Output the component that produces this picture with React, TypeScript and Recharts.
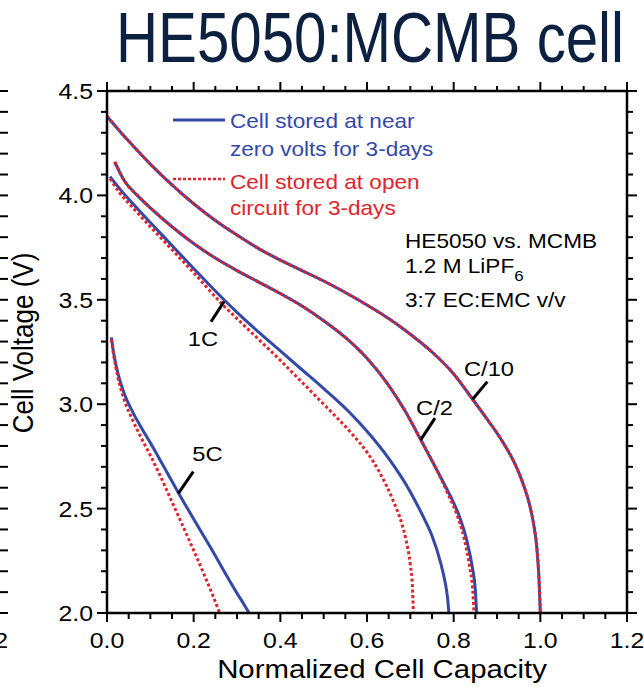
import React from 'react';
import { LineChart, Line, XAxis, YAxis, ReferenceLine, ReferenceDot, Legend } from 'recharts';

const FONT = '"Liberation Sans", Arial, Helvetica, sans-serif';
const NARROW = '"Liberation Sans Narrow", "Arial Narrow", "Liberation Sans", Arial, sans-serif';
const SX = 1.13;
const BLUE = '#3448a8';
const RED = '#e1232b';
const NAVY = '#0c2140';

// ---------- axis ticks ----------
const xTicks = [0, 0.05, 0.1, 0.15, 0.2, 0.25, 0.3, 0.35, 0.4, 0.45, 0.5, 0.55, 0.6, 0.65, 0.7, 0.75, 0.8, 0.85, 0.9, 0.95, 1.0, 1.05, 1.1, 1.15, 1.2];
const xMajorTicks = [0, 0.2, 0.4, 0.6, 0.8, 1.0, 1.2];
const xTickLabels = ['0.0', '0.2', '0.4', '0.6', '0.8', '1.0', '1.2'];
const yTicks = [2.0, 2.1, 2.2, 2.3, 2.4, 2.5, 2.6, 2.7, 2.8, 2.9, 3.0, 3.1, 3.2, 3.3, 3.4, 3.5, 3.6, 3.7, 3.8, 3.9, 4.0, 4.1, 4.2, 4.3, 4.4, 4.5];
const yMajorTicks = [2.0, 2.5, 3.0, 3.5, 4.0, 4.5];
const yTickLabels = ['2.0', '2.5', '3.0', '3.5', '4.0', '4.5'];

// ---------- series: C/10 ----------
const c10BlueCap = [0, 0.02, 0.05, 0.1, 0.15, 0.2, 0.25, 0.3, 0.35, 0.4, 0.45, 0.5, 0.55, 0.6, 0.65, 0.7, 0.75, 0.8, 0.845, 0.88, 0.91, 0.94, 0.96, 0.975, 0.985, 0.992, 0.997, 1.0];
const c10BlueV = [4.38, 4.33, 4.26, 4.15, 4.05, 3.96, 3.88, 3.81, 3.745, 3.69, 3.64, 3.59, 3.535, 3.475, 3.41, 3.335, 3.25, 3.145, 3.02, 2.92, 2.83, 2.72, 2.62, 2.52, 2.42, 2.31, 2.16, 2.0];
const c10RedCap = [0, 0.02, 0.05, 0.1, 0.15, 0.2, 0.25, 0.3, 0.35, 0.4, 0.45, 0.5, 0.55, 0.6, 0.65, 0.7, 0.75, 0.8, 0.845, 0.88, 0.91, 0.94, 0.96, 0.975, 0.985, 0.992, 0.997, 1.0];
const c10RedV = [4.38, 4.33, 4.26, 4.15, 4.05, 3.96, 3.88, 3.81, 3.745, 3.69, 3.64, 3.59, 3.535, 3.475, 3.41, 3.335, 3.25, 3.145, 3.02, 2.92, 2.83, 2.72, 2.62, 2.52, 2.42, 2.31, 2.16, 2.0];

// ---------- series: C/2 ----------
const c2BlueCap = [0.018, 0.04, 0.07, 0.1, 0.15, 0.2, 0.25, 0.3, 0.35, 0.4, 0.45, 0.5, 0.55, 0.6, 0.65, 0.69, 0.724, 0.76, 0.79, 0.81, 0.83, 0.843, 0.85, 0.853];
const c2BlueV = [4.16, 4.07, 4.0, 3.94, 3.85, 3.77, 3.7, 3.64, 3.585, 3.53, 3.47, 3.4, 3.32, 3.22, 3.09, 2.96, 2.83, 2.69, 2.57, 2.48, 2.35, 2.22, 2.11, 2.0];
const c2RedCap = [0.018, 0.04, 0.07, 0.1, 0.15, 0.2, 0.25, 0.3, 0.35, 0.4, 0.45, 0.5, 0.55, 0.6, 0.65, 0.69, 0.724, 0.76, 0.787, 0.806, 0.825, 0.837, 0.844, 0.847];
const c2RedV = [4.16, 4.07, 4.0, 3.94, 3.85, 3.77, 3.7, 3.64, 3.585, 3.53, 3.47, 3.4, 3.32, 3.22, 3.09, 2.96, 2.83, 2.69, 2.57, 2.48, 2.35, 2.22, 2.11, 2.0];

// ---------- series: 1C ----------
const c1BlueCap = [0.007, 0.03, 0.06, 0.1, 0.15, 0.2, 0.27, 0.3, 0.35, 0.4, 0.45, 0.5, 0.56, 0.6, 0.65, 0.7, 0.73, 0.75, 0.77, 0.78, 0.786, 0.789];
const c1BlueV = [4.09, 4.03, 3.96, 3.87, 3.76, 3.65, 3.5, 3.44, 3.345, 3.255, 3.165, 3.075, 2.96, 2.87, 2.74, 2.58, 2.46, 2.37, 2.24, 2.15, 2.07, 2.0];
const c1RedCap = [0.007, 0.03, 0.06, 0.1, 0.15, 0.2, 0.27, 0.3, 0.35, 0.4, 0.45, 0.5, 0.56, 0.6, 0.63, 0.66, 0.68, 0.69, 0.7, 0.705, 0.707];
const c1RedV = [4.08, 4.01, 3.94, 3.85, 3.74, 3.63, 3.47, 3.41, 3.31, 3.21, 3.105, 3.0, 2.87, 2.77, 2.67, 2.54, 2.43, 2.35, 2.23, 2.12, 2.0];

// ---------- series: 5C ----------
const c5BlueCap = [0.01, 0.015, 0.025, 0.04, 0.06, 0.08, 0.1, 0.13, 0.165, 0.2, 0.24, 0.28, 0.3, 0.315, 0.328];
const c5BlueV = [3.32, 3.25, 3.15, 3.05, 2.96, 2.885, 2.815, 2.705, 2.575, 2.45, 2.31, 2.165, 2.095, 2.045, 2.0];
const c5RedCap = [0.01, 0.015, 0.025, 0.04, 0.06, 0.08, 0.1, 0.12, 0.145, 0.17, 0.2, 0.225, 0.245, 0.26];
const c5RedV = [3.31, 3.24, 3.13, 3.02, 2.92, 2.835, 2.755, 2.67, 2.555, 2.44, 2.3, 2.18, 2.08, 2.0];

// ---------- rate annotations ----------
const rateLabels = ['C/10', 'C/2', '1C', '5C'];
const rateLabelCap = [0.8815, 0.7558, 0.2215, 0.2319];
const rateLabelV = [3.169, 2.984, 3.317, 2.762];
const pointerFromCap = [0.8777, 0.7569, 0.24, 0.1992];
const pointerFromV = [3.108, 2.933, 3.395, 2.677];
const pointerToCap = [0.8437, 0.7239, 0.27, 0.1646];
const pointerToV = [3.024, 2.829, 3.491, 2.573];

const legendLabels = [
  ['Cell stored at near', 'zero volts for 3-days'],
  ['Cell stored at open', 'circuit for 3-days'],
];

const toPts = (cap: number[], v: number[]) => cap.map((c, i) => ({ c, v: v[i] }));

const blueSeries = [
  toPts(c10BlueCap, c10BlueV),
  toPts(c2BlueCap, c2BlueV),
  toPts(c1BlueCap, c1BlueV),
  toPts(c5BlueCap, c5BlueV),
];
const redSeries = [
  toPts(c10RedCap, c10RedV),
  toPts(c2RedCap, c2RedV),
  toPts(c1RedCap, c1RedV),
  toPts(c5RedCap, c5RedV),
];

const majorIndex = (v: number, majors: number[]) => majors.findIndex((m) => Math.abs(m - v) < 1e-6);

function SText(props: any) {
  const { x, y, anchor = 'start', size = 20, fill = '#000', rotate = false, children } = props;
  return (
    <text
      transform={`translate(${x},${y}) scale(${SX},1)${rotate ? ' rotate(-90)' : ''}`}
      textAnchor={anchor}
      fontSize={size}
      fontFamily={FONT}
      fill={fill}
    >
      {children}
    </text>
  );
}

function BottomTick(props: any) {
  const { x, y, payload } = props;
  const i = majorIndex(payload.value, xMajorTicks);
  const len = i >= 0 ? 9 : 6;
  return (
    <g>
      <line x1={x} x2={x} y1={y} y2={y + len} stroke="#000" strokeWidth={2} />
      {i >= 0 && (
        <SText x={x} y={y + 35} anchor="middle" size={22}>
          {xTickLabels[i]}
        </SText>
      )}
    </g>
  );
}

function TopTick(props: any) {
  const { x, y, payload } = props;
  const i = majorIndex(payload.value, xMajorTicks);
  const len = i >= 0 ? 9 : 5;
  return <line x1={x} x2={x} y1={y} y2={y - len} stroke="#000" strokeWidth={2} />;
}

function LeftTick(props: any) {
  const { x, y, payload } = props;
  const i = majorIndex(payload.value, yMajorTicks);
  const len = i >= 0 ? 10 : 6;
  return (
    <g>
      <line x1={x} x2={x - len} y1={y} y2={y} stroke="#000" strokeWidth={2} />
      {i >= 0 && (
        <SText x={x - 14} y={y + 8} anchor="end" size={22}>
          {yTickLabels[i]}
        </SText>
      )}
    </g>
  );
}

function RightTick(props: any) {
  const { x, y, payload } = props;
  const i = majorIndex(payload.value, yMajorTicks);
  const len = i >= 0 ? 10 : 6;
  return <line x1={x} x2={x + len} y1={y} y2={y} stroke="#000" strokeWidth={2} />;
}

// ticks of the neighbouring (cut off) panel on the far left
function GhostTick(props: any) {
  const { x, y } = props;
  return <line x1={x - 8} x2={x} y1={y} y2={y} stroke="#000" strokeWidth={2} />;
}

function LegendContent() {
  return (
    <svg width={320} height={115} style={{ overflow: 'visible', display: 'block' }}>
      <line x1={0} y1={12} x2={52} y2={12} stroke={BLUE} strokeWidth={3} />
      <SText x={57} y={20} fill={BLUE} size={20}>{legendLabels[0][0]}</SText>
      <SText x={57} y={48} fill={BLUE} size={20}>{legendLabels[0][1]}</SText>
      <line x1={0} y1={71} x2={52} y2={71} stroke={RED} strokeWidth={2.5} strokeDasharray="3 2" />
      <SText x={57} y={81} fill={RED} size={20}>{legendLabels[1][0]}</SText>
      <SText x={57} y={107} fill={RED} size={20}>{legendLabels[1][1]}</SText>
    </svg>
  );
}

function RateLabel(props: any) {
  const { viewBox, value } = props;
  const cx = viewBox.x + (viewBox.width || 0) / 2;
  const cy = viewBox.y + (viewBox.height || 0) / 2;
  return (
    <SText x={cx} y={cy + 7.5} anchor="middle" size={21}>
      {value}
    </SText>
  );
}

export default function App() {
  return (
    <div style={{ position: 'absolute', left: 0, top: 0, width: 644, height: 690, background: '#fff' }}>
      <LineChart width={644} height={690} margin={{ top: 90, right: 16, bottom: 0, left: 0 }}>
        <XAxis
          xAxisId={0}
          dataKey="c"
          type="number"
          domain={[0, 1.2]}
          ticks={xTicks}
          interval={0}
          height={77}
          tickSize={0}
          tickMargin={0}
          tickLine={false}
          axisLine={{ stroke: '#000', strokeWidth: 2.5 }}
          tick={<BottomTick />}
          allowDataOverflow
        />
        <XAxis
          xAxisId="top"
          orientation="top"
          dataKey="c"
          type="number"
          domain={[0, 1.2]}
          ticks={xTicks}
          interval={0}
          height={1}
          tickSize={0}
          tickMargin={0}
          tickLine={false}
          axisLine={{ stroke: '#000', strokeWidth: 2.5 }}
          tick={<TopTick />}
          allowDataOverflow
        />
        <YAxis
          yAxisId={0}
          type="number"
          domain={[2, 4.5]}
          ticks={yTicks}
          interval={0}
          width={99}
          tickSize={0}
          tickMargin={0}
          tickLine={false}
          axisLine={{ stroke: '#000', strokeWidth: 2.5 }}
          tick={<LeftTick />}
          allowDataOverflow
        />
        <YAxis
          yAxisId="ghost"
          type="number"
          domain={[2, 4.5]}
          ticks={yTicks}
          interval={0}
          width={8}
          tickSize={0}
          tickMargin={0}
          tickLine={false}
          axisLine={false}
          tick={<GhostTick />}
          allowDataOverflow
        />
        <YAxis
          yAxisId="right"
          orientation="right"
          type="number"
          domain={[2, 4.5]}
          ticks={yTicks}
          interval={0}
          width={1}
          tickSize={0}
          tickMargin={0}
          tickLine={false}
          axisLine={{ stroke: '#000', strokeWidth: 2.5 }}
          tick={<RightTick />}
          allowDataOverflow
        />
        <Legend
          layout="vertical"
          align="center"
          verticalAlign="middle"
          content={<LegendContent />}
          wrapperStyle={{ position: 'absolute', left: 173, top: 108, width: 320, height: 115 }}
        />
        {blueSeries.map((d, i) => (
          <Line
            key={'b' + i}
            data={d}
            dataKey="v"
            type="monotone"
            stroke={BLUE}
            strokeWidth={3}
            dot={false}
            activeDot={false}
            isAnimationActive={false}
            legendType="none"
          />
        ))}
        {redSeries.map((d, i) => (
          <Line
            key={'r' + i}
            data={d}
            dataKey="v"
            type="monotone"
            stroke={RED}
            strokeWidth={3}
            strokeDasharray="3 2.5"
            dot={false}
            activeDot={false}
            isAnimationActive={false}
            legendType="none"
          />
        ))}
        {rateLabels.map((t, i) => (
          <ReferenceLine
            key={'p' + i}
            segment={[
              { x: pointerFromCap[i], y: pointerFromV[i] },
              { x: pointerToCap[i], y: pointerToV[i] },
            ]}
            stroke="#000"
            strokeWidth={3}
          />
        ))}
        {rateLabels.map((t, i) => (
          <ReferenceDot
            key={'l' + i}
            x={rateLabelCap[i]}
            y={rateLabelV[i]}
            r={0}
            fill="none"
            stroke="none"
            label={<RateLabel value={t} />}
          />
        ))}
      </LineChart>
      <svg
        width={644}
        height={690}
        style={{ position: 'absolute', left: 0, top: 0, pointerEvents: 'none' }}
      >
        <text
          x={116}
          y={62}
          fontSize={70}
          fontFamily={NARROW}
          fill={NAVY}
          textLength={508}
          lengthAdjust="spacingAndGlyphs"
        >
          HE5050:MCMB cell
        </text>
        <SText x={405} y={248} size={20}>HE5050 vs. MCMB</SText>
        <SText x={405} y={273} size={20}>
          1.2 M LiPF<tspan fontSize={15} dy={8}>6</tspan>
        </SText>
        <SText x={405} y={307} size={20}>3:7 EC:EMC v/v</SText>
        <SText x={382} y={678} anchor="middle" size={26}>Normalized Cell Capacity</SText>
        <SText x={33} y={343} anchor="middle" size={26} rotate>Cell Voltage (V)</SText>
        <SText x={8} y={648} anchor="end" size={22}>1.2</SText>
      </svg>
    </div>
  );
}
